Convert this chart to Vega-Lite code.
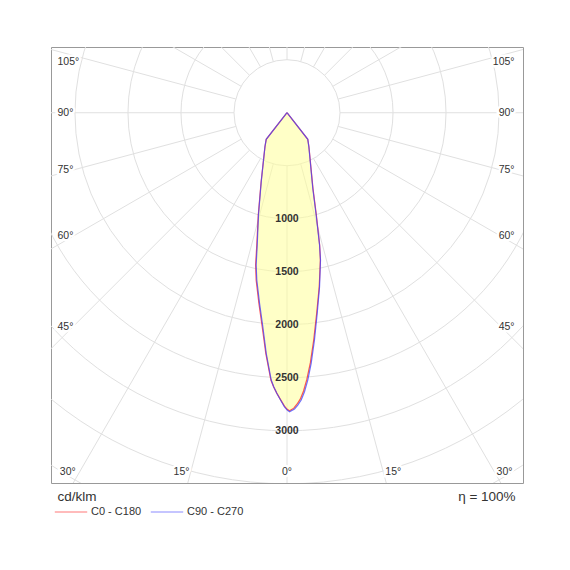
{
  "$schema": "https://vega.github.io/schema/vega-lite/v6.json",
  "width": 472,
  "height": 436,
  "autosize": "none",
  "padding": {"left": 51, "top": 47, "right": 47, "bottom": 87},
  "background": "white",
  "datasets": {
    "rings": [
      {"x": 0, "y": 0, "r": 500}, {"x": 0, "y": 0, "r": 1000}, {"x": 0, "y": 0, "r": 1500}, {"x": 0, "y": 0, "r": 2000},
      {"x": 0, "y": 0, "r": 2500}, {"x": 0, "y": 0, "r": 3000}, {"x": 0, "y": 0, "r": 3500}, {"x": 0, "y": 0, "r": 4000}
    ],
    "spokes": [
      {"x": 0, "y": -500, "x2": 0, "y2": -6000},
      {"x": 129.4, "y": -483, "x2": 1552.9, "y2": -5795.6},
      {"x": 250, "y": -433, "x2": 3000, "y2": -5196.2},
      {"x": 353.6, "y": -353.6, "x2": 4242.6, "y2": -4242.6},
      {"x": 433, "y": -250, "x2": 5196.2, "y2": -3000},
      {"x": 483, "y": -129.4, "x2": 5795.6, "y2": -1552.9},
      {"x": 500, "y": 0, "x2": 6000, "y2": 0},
      {"x": 483, "y": 129.4, "x2": 5795.6, "y2": 1552.9},
      {"x": 433, "y": 250, "x2": 5196.2, "y2": 3000},
      {"x": 353.6, "y": 353.6, "x2": 4242.6, "y2": 4242.6},
      {"x": 250, "y": 433, "x2": 3000, "y2": 5196.2},
      {"x": 129.4, "y": 483, "x2": 1552.9, "y2": 5795.6},
      {"x": 0, "y": 500, "x2": 0, "y2": 6000},
      {"x": -129.4, "y": -483, "x2": -1552.9, "y2": -5795.6},
      {"x": -250, "y": -433, "x2": -3000, "y2": -5196.2},
      {"x": -353.6, "y": -353.6, "x2": -4242.6, "y2": -4242.6},
      {"x": -433, "y": -250, "x2": -5196.2, "y2": -3000},
      {"x": -483, "y": -129.4, "x2": -5795.6, "y2": -1552.9},
      {"x": -500, "y": 0, "x2": -6000, "y2": 0},
      {"x": -483, "y": 129.4, "x2": -5795.6, "y2": 1552.9},
      {"x": -433, "y": 250, "x2": -5196.2, "y2": 3000},
      {"x": -353.6, "y": 353.6, "x2": -4242.6, "y2": 4242.6},
      {"x": -250, "y": 433, "x2": -3000, "y2": 5196.2},
      {"x": -129.4, "y": 483, "x2": -1552.9, "y2": 5795.6}
    ],
    "lobe": [
      {"series": "C0 - C180", "i": 0, "x": 0, "y": 0},
      {"series": "C0 - C180", "i": 1, "x": -196, "y": -251},
      {"series": "C0 - C180", "i": 2, "x": -208, "y": -321},
      {"series": "C0 - C180", "i": 3, "x": -244, "y": -651},
      {"series": "C0 - C180", "i": 4, "x": -271, "y": -965},
      {"series": "C0 - C180", "i": 5, "x": -285, "y": -1248},
      {"series": "C0 - C180", "i": 6, "x": -296, "y": -1437},
      {"series": "C0 - C180", "i": 7, "x": -291, "y": -1578},
      {"series": "C0 - C180", "i": 8, "x": -265, "y": -1798},
      {"series": "C0 - C180", "i": 9, "x": -234, "y": -2019},
      {"series": "C0 - C180", "i": 10, "x": -217, "y": -2144},
      {"series": "C0 - C180", "i": 11, "x": -200, "y": -2270},
      {"series": "C0 - C180", "i": 12, "x": -152, "y": -2522},
      {"series": "C0 - C180", "i": 13, "x": -127, "y": -2585},
      {"series": "C0 - C180", "i": 14, "x": -97, "y": -2645},
      {"series": "C0 - C180", "i": 15, "x": -61, "y": -2706},
      {"series": "C0 - C180", "i": 16, "x": -24, "y": -2768},
      {"series": "C0 - C180", "i": 17, "x": 2, "y": -2798},
      {"series": "C0 - C180", "i": 18, "x": 24, "y": -2812},
      {"series": "C0 - C180", "i": 19, "x": 64, "y": -2787},
      {"series": "C0 - C180", "i": 20, "x": 94, "y": -2750},
      {"series": "C0 - C180", "i": 21, "x": 125, "y": -2702},
      {"series": "C0 - C180", "i": 22, "x": 156, "y": -2625},
      {"series": "C0 - C180", "i": 23, "x": 187, "y": -2516},
      {"series": "C0 - C180", "i": 24, "x": 220, "y": -2360},
      {"series": "C0 - C180", "i": 25, "x": 252, "y": -2144},
      {"series": "C0 - C180", "i": 26, "x": 280, "y": -1892},
      {"series": "C0 - C180", "i": 27, "x": 304, "y": -1642},
      {"series": "C0 - C180", "i": 28, "x": 315, "y": -1390},
      {"series": "C0 - C180", "i": 29, "x": 308, "y": -1248},
      {"series": "C0 - C180", "i": 30, "x": 277, "y": -965},
      {"series": "C0 - C180", "i": 31, "x": 245, "y": -713},
      {"series": "C0 - C180", "i": 32, "x": 207, "y": -321},
      {"series": "C0 - C180", "i": 33, "x": 196, "y": -251},
      {"series": "C0 - C180", "i": 34, "x": 0, "y": 0},
      {"series": "C90 - C270", "i": 0, "x": 0, "y": 0},
      {"series": "C90 - C270", "i": 1, "x": -196, "y": -251},
      {"series": "C90 - C270", "i": 2, "x": -208, "y": -321},
      {"series": "C90 - C270", "i": 3, "x": -243, "y": -651},
      {"series": "C90 - C270", "i": 4, "x": -269, "y": -965},
      {"series": "C90 - C270", "i": 5, "x": -281, "y": -1248},
      {"series": "C90 - C270", "i": 6, "x": -291, "y": -1437},
      {"series": "C90 - C270", "i": 7, "x": -285, "y": -1578},
      {"series": "C90 - C270", "i": 8, "x": -259, "y": -1798},
      {"series": "C90 - C270", "i": 9, "x": -228, "y": -2019},
      {"series": "C90 - C270", "i": 10, "x": -212, "y": -2144},
      {"series": "C90 - C270", "i": 11, "x": -196, "y": -2270},
      {"series": "C90 - C270", "i": 12, "x": -149, "y": -2522},
      {"series": "C90 - C270", "i": 13, "x": -125, "y": -2585},
      {"series": "C90 - C270", "i": 14, "x": -96, "y": -2647},
      {"series": "C90 - C270", "i": 15, "x": -61, "y": -2710},
      {"series": "C90 - C270", "i": 16, "x": -24, "y": -2774},
      {"series": "C90 - C270", "i": 17, "x": 2, "y": -2805},
      {"series": "C90 - C270", "i": 18, "x": 24, "y": -2821},
      {"series": "C90 - C270", "i": 19, "x": 71, "y": -2795},
      {"series": "C90 - C270", "i": 20, "x": 102, "y": -2758},
      {"series": "C90 - C270", "i": 21, "x": 134, "y": -2710},
      {"series": "C90 - C270", "i": 22, "x": 165, "y": -2632},
      {"series": "C90 - C270", "i": 23, "x": 196, "y": -2522},
      {"series": "C90 - C270", "i": 24, "x": 228, "y": -2364},
      {"series": "C90 - C270", "i": 25, "x": 259, "y": -2144},
      {"series": "C90 - C270", "i": 26, "x": 285, "y": -1892},
      {"series": "C90 - C270", "i": 27, "x": 307, "y": -1642},
      {"series": "C90 - C270", "i": 28, "x": 316, "y": -1390},
      {"series": "C90 - C270", "i": 29, "x": 307, "y": -1248},
      {"series": "C90 - C270", "i": 30, "x": 275, "y": -965},
      {"series": "C90 - C270", "i": 31, "x": 243, "y": -713},
      {"series": "C90 - C270", "i": 32, "x": 206, "y": -321},
      {"series": "C90 - C270", "i": 33, "x": 196, "y": -251},
      {"series": "C90 - C270", "i": 34, "x": 0, "y": 0}
    ],
    "values": [
      {"x": 0, "y": -1000, "t": "1000"},
      {"x": 0, "y": -1500, "t": "1500"},
      {"x": 0, "y": -2000, "t": "2000"},
      {"x": 0, "y": -2500, "t": "2500"},
      {"x": 0, "y": -3000, "t": "3000"}
    ],
    "angles": [
      {"side": "left", "x": -2165, "y": 475, "t": "105°"},
      {"side": "left", "x": -2165, "y": 0, "t": "90°"},
      {"side": "left", "x": -2165, "y": -536, "t": "75°"},
      {"side": "left", "x": -2165, "y": -1160, "t": "60°"},
      {"side": "left", "x": -2165, "y": -2019, "t": "45°"},
      {"side": "right", "x": 2146, "y": 475, "t": "105°"},
      {"side": "right", "x": 2146, "y": 0, "t": "90°"},
      {"side": "right", "x": 2146, "y": -536, "t": "75°"},
      {"side": "right", "x": 2146, "y": -1160, "t": "60°"},
      {"side": "right", "x": 2146, "y": -2019, "t": "45°"},
      {"side": "bottom", "x": -2068, "y": -3392, "t": "30°"},
      {"side": "bottom", "x": -995, "y": -3392, "t": "15°"},
      {"side": "bottom", "x": 0, "y": -3392, "t": "0°"},
      {"side": "bottom", "x": 1002, "y": -3392, "t": "15°"},
      {"side": "bottom", "x": 2052, "y": -3392, "t": "30°"}
    ],
    "notes": [
      {"side": "left", "x": -2165, "y": -3628, "t": "cd/klm"},
      {"side": "right", "x": 2156, "y": -3628, "t": "η = 100%"}
    ]
  },
  "encoding": {
    "x": {"field": "x", "type": "quantitative", "scale": {"domain": [-2226, 2226], "nice": false, "zero": false}, "axis": null},
    "y": {"field": "y", "type": "quantitative", "scale": {"domain": [-3493, 620], "nice": false, "zero": false}, "axis": null}
  },
  "layer": [
    {
      "data": {"name": "rings"},
      "mark": {"type": "point", "shape": "circle", "filled": false, "color": "#e0e0e0", "strokeWidth": 1, "opacity": 1, "strokeOpacity": 1, "clip": true},
      "encoding": {
        "size": {"field": "r", "type": "quantitative", "scale": {"type": "pow", "exponent": 2, "domain": [0, 1000], "range": [0, 44961]}, "legend": null}
      }
    },
    {
      "data": {"name": "spokes"},
      "mark": {"type": "rule", "stroke": "#e0e0e0", "strokeWidth": 1, "clip": true},
      "encoding": {
        "x2": {"field": "x2"},
        "y2": {"field": "y2"}
      }
    },
    {
      "data": {"name": "lobe"},
      "transform": [{"filter": "datum.series == 'C90 - C270'"}],
      "mark": {"type": "line", "fill": "#ffff99", "fillOpacity": 0.55, "strokeOpacity": 0, "interpolate": "linear-closed"},
      "encoding": {
        "order": {"field": "i", "type": "quantitative"}
      }
    },
    {
      "data": {"name": "lobe"},
      "mark": {"type": "line", "strokeWidth": 1.2, "opacity": 0.75},
      "encoding": {
        "order": {"field": "i", "type": "quantitative"},
        "stroke": {
          "field": "series",
          "type": "nominal",
          "scale": {"domain": ["C0 - C180", "C90 - C270"], "range": ["#ff2020", "#4040ff"]},
          "legend": {
            "orient": "none",
            "legendX": 3,
            "legendY": 448,
            "direction": "horizontal",
            "title": null,
            "symbolType": "stroke",
            "symbolSize": 1050,
            "symbolStrokeWidth": 1.5,
            "symbolOpacity": 0.4,
            "labelFont": "Liberation Sans",
            "labelFontSize": 11,
            "labelColor": "#333333",
            "labelOffset": 3,
            "columnPadding": 5
          }
        }
      }
    },
    {
      "data": {"name": "values"},
      "mark": {"type": "text", "font": "Liberation Sans", "fontSize": 10.5, "fontWeight": "bold", "fill": "#333333", "align": "center", "baseline": "middle"},
      "encoding": {"text": {"field": "t"}}
    },
    {
      "data": {"name": "angles"},
      "transform": [{"filter": "datum.side == 'left'"}],
      "mark": {"type": "text", "font": "Liberation Sans", "fontSize": 10.5, "fill": "white", "stroke": "white", "strokeWidth": 5, "align": "left", "baseline": "middle"},
      "encoding": {"text": {"field": "t"}}
    },
    {
      "data": {"name": "angles"},
      "transform": [{"filter": "datum.side == 'right'"}],
      "mark": {"type": "text", "font": "Liberation Sans", "fontSize": 10.5, "fill": "white", "stroke": "white", "strokeWidth": 5, "align": "right", "baseline": "middle"},
      "encoding": {"text": {"field": "t"}}
    },
    {
      "data": {"name": "angles"},
      "transform": [{"filter": "datum.side == 'bottom'"}],
      "mark": {"type": "text", "font": "Liberation Sans", "fontSize": 10.5, "fill": "white", "stroke": "white", "strokeWidth": 5, "align": "center", "baseline": "middle"},
      "encoding": {"text": {"field": "t"}}
    },
    {
      "data": {"name": "angles"},
      "transform": [{"filter": "datum.side == 'left'"}],
      "mark": {"type": "text", "font": "Liberation Sans", "fontSize": 10.5, "fill": "#333333", "align": "left", "baseline": "middle"},
      "encoding": {"text": {"field": "t"}}
    },
    {
      "data": {"name": "angles"},
      "transform": [{"filter": "datum.side == 'right'"}],
      "mark": {"type": "text", "font": "Liberation Sans", "fontSize": 10.5, "fill": "#333333", "align": "right", "baseline": "middle"},
      "encoding": {"text": {"field": "t"}}
    },
    {
      "data": {"name": "angles"},
      "transform": [{"filter": "datum.side == 'bottom'"}],
      "mark": {"type": "text", "font": "Liberation Sans", "fontSize": 10.5, "fill": "#333333", "align": "center", "baseline": "middle"},
      "encoding": {"text": {"field": "t"}}
    },
    {
      "data": {"name": "notes"},
      "transform": [{"filter": "datum.side == 'left'"}],
      "mark": {"type": "text", "font": "Liberation Sans", "fontSize": 13.5, "fill": "#333333", "align": "left", "baseline": "middle"},
      "encoding": {"text": {"field": "t"}}
    },
    {
      "data": {"name": "notes"},
      "transform": [{"filter": "datum.side == 'right'"}],
      "mark": {"type": "text", "font": "Liberation Sans", "fontSize": 13.5, "fill": "#333333", "align": "right", "baseline": "middle"},
      "encoding": {"text": {"field": "t"}}
    }
  ],
  "config": {
    "view": {"stroke": "#999999", "strokeWidth": 1},
    "font": "Liberation Sans"
  }
}
